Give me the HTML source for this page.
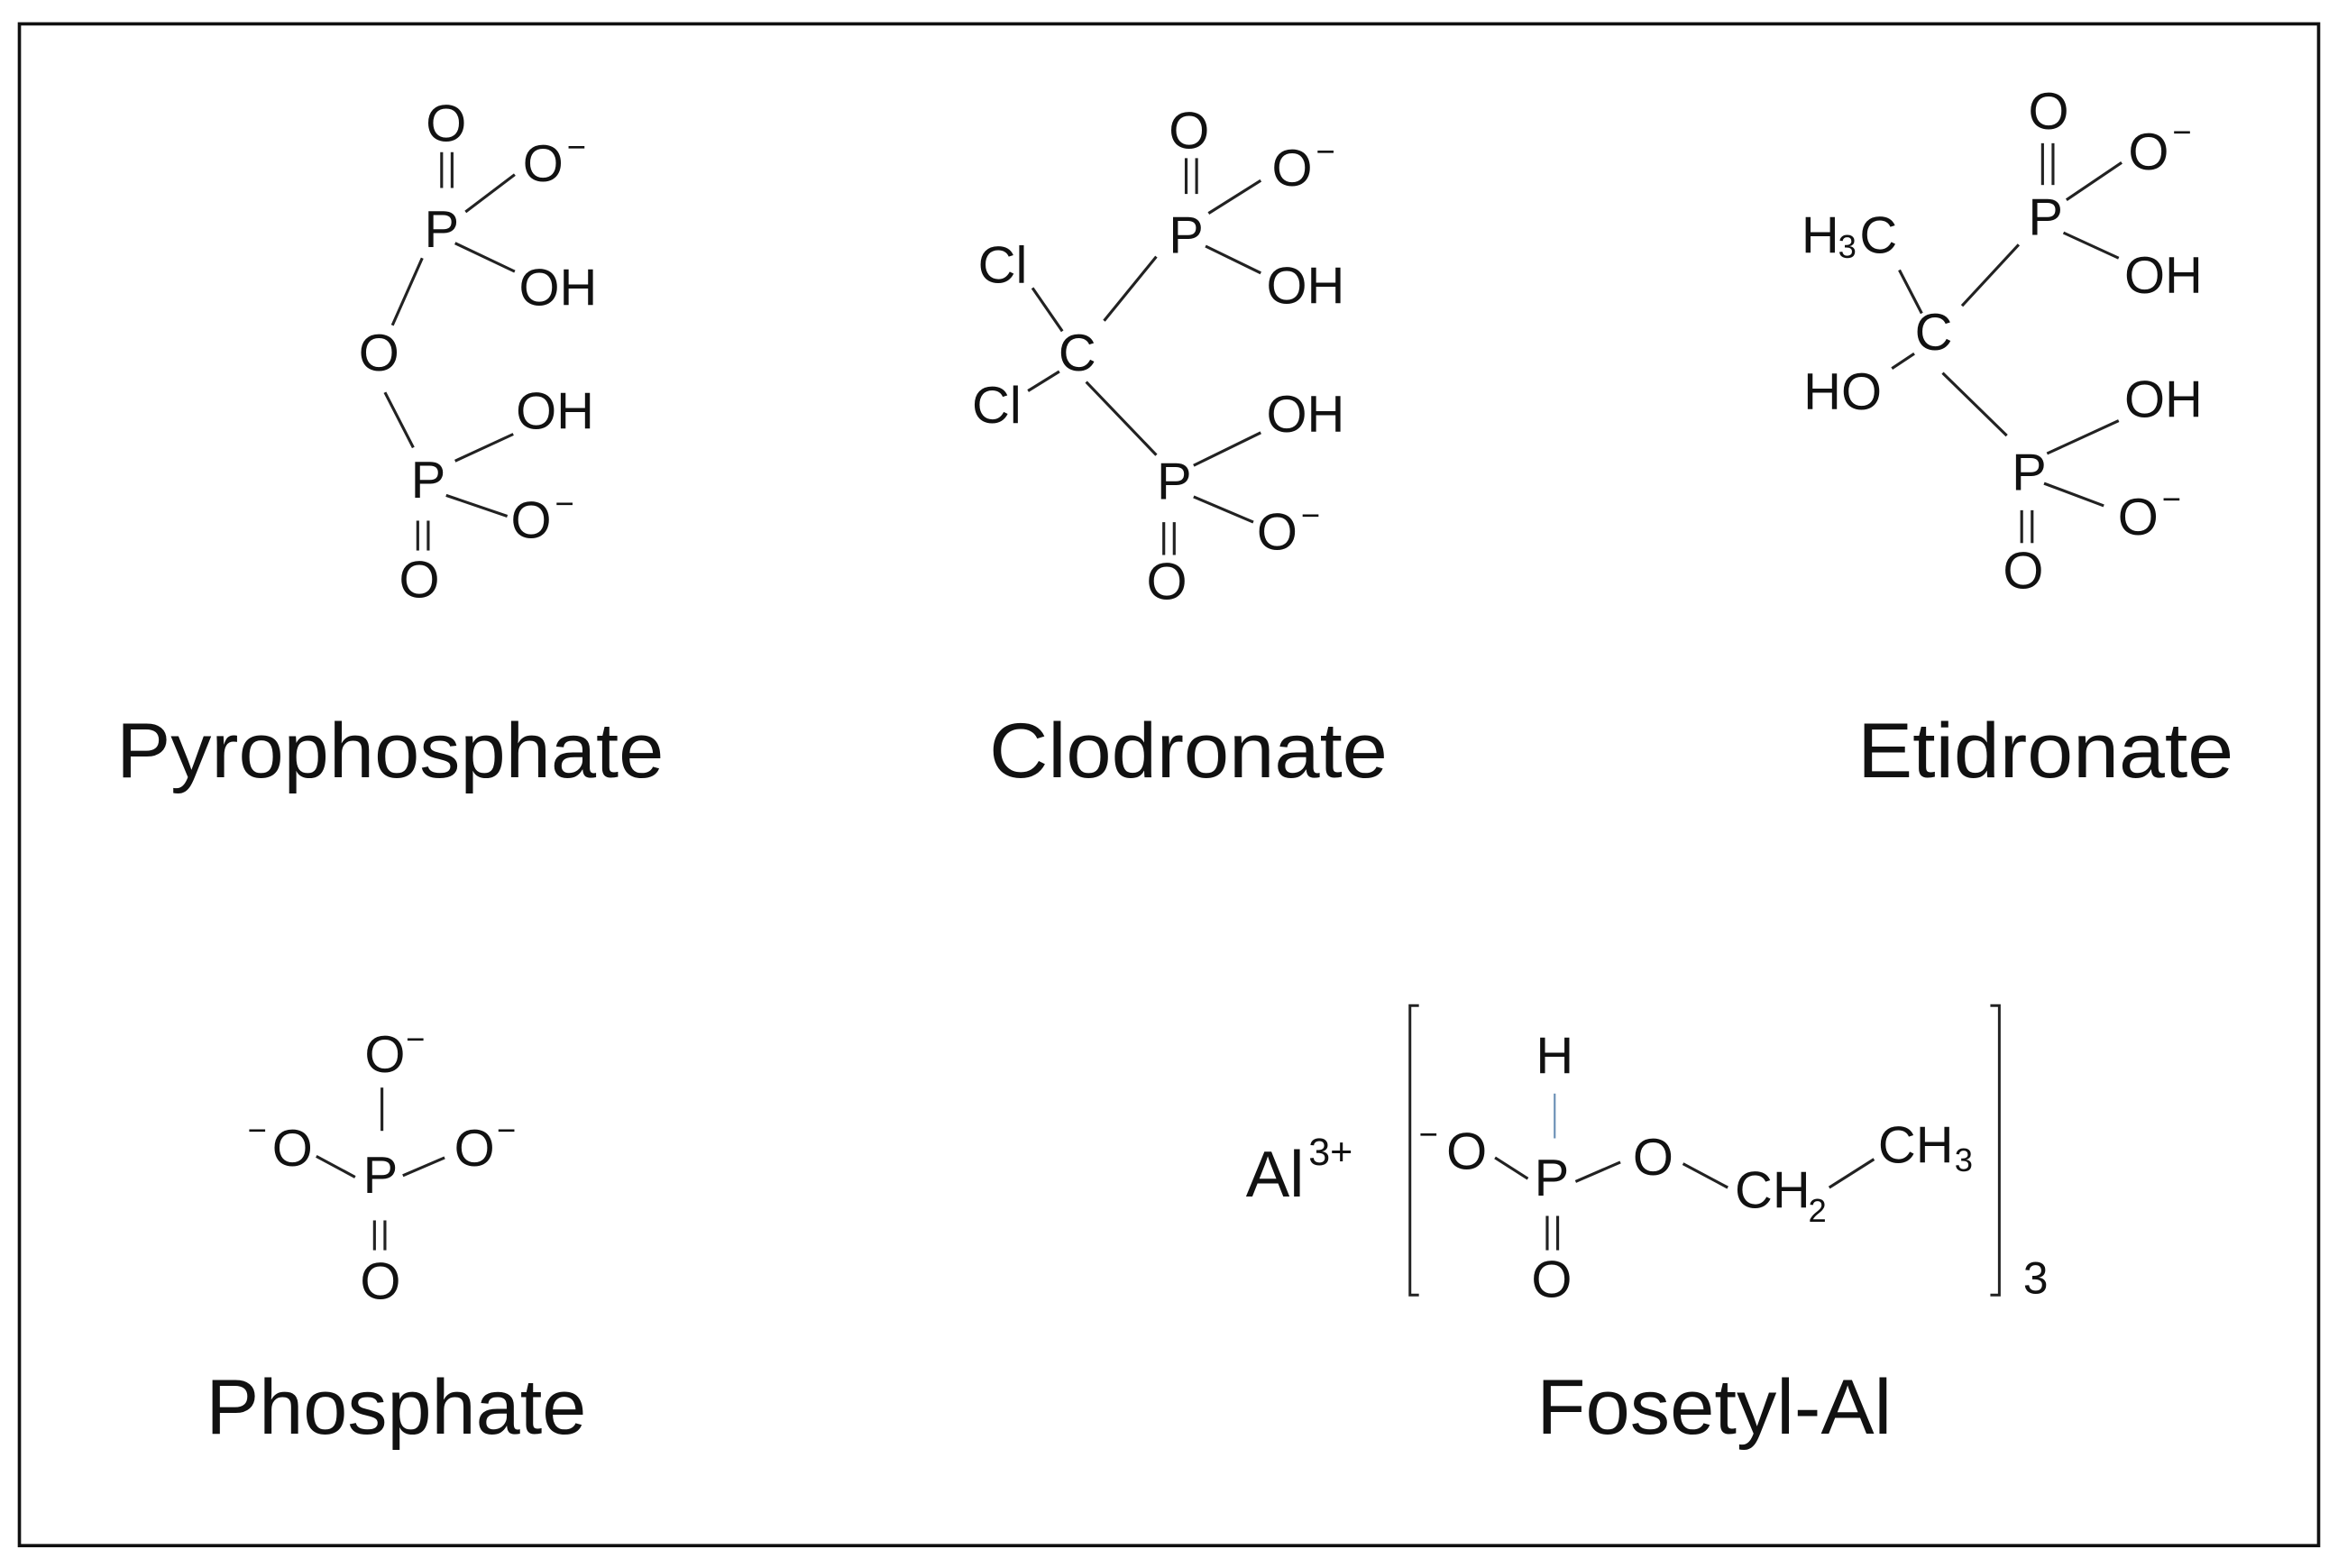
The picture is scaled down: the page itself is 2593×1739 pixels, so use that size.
<!DOCTYPE html>
<html><head><meta charset="utf-8"><style>
html,body{margin:0;padding:0;background:#fff;}
svg{display:block;}
text{font-family:"Liberation Sans",sans-serif;fill:#111;}
.a{font-size:35px;text-anchor:middle;dominant-baseline:central;}
.s{font-size:22px;}
.l{font-size:52px;}
line{stroke:#222;stroke-width:1.9;}
</style></head><body>
<svg width="2593" height="1739" viewBox="0 0 1567 1051" preserveAspectRatio="none" xmlns="http://www.w3.org/2000/svg">
<rect x="0" y="0" width="1567" height="1051" fill="#fff"/>
<rect x="13" y="16" width="1541" height="1020" fill="none" stroke="#111" stroke-width="2.2"/>

<!-- Pyrophosphate -->
<text class="a" x="299" y="83">O</text>
<text class="a" x="364" y="110">O</text><text class="s" x="380" y="106">−</text>
<text class="a" x="296" y="154">P</text>
<text class="a" x="374" y="193">OH</text>
<text class="a" x="254" y="237">O</text>
<text class="a" x="372" y="276">OH</text>
<text class="a" x="287" y="322">P</text>
<text class="a" x="356" y="349">O</text><text class="s" x="372" y="345">−</text>
<text class="a" x="281" y="389">O</text>
<line x1="296" y1="102" x2="296" y2="126"/><line x1="303" y1="102" x2="303" y2="126"/>
<line x1="312" y1="142" x2="345" y2="117"/>
<line x1="305" y1="163" x2="345" y2="182"/>
<line x1="283" y1="173" x2="263" y2="218"/>
<line x1="258" y1="263" x2="277" y2="300"/>
<line x1="305" y1="309" x2="344" y2="291"/>
<line x1="299" y1="332" x2="340" y2="346"/>
<line x1="280" y1="349" x2="280" y2="369"/><line x1="287" y1="349" x2="287" y2="369"/>
<text class="l" x="78" y="521" textLength="367" lengthAdjust="spacingAndGlyphs">Pyrophosphate</text>

<!-- Clodronate -->
<text class="a" x="797" y="88">O</text>
<text class="a" x="866" y="113">O</text><text class="s" x="882" y="109">−</text>
<text class="a" x="795" y="158">P</text>
<text class="a" x="875" y="192">OH</text>
<text class="a" x="672" y="178">Cl</text>
<text class="a" x="722" y="237">C</text>
<text class="a" x="668" y="272">Cl</text>
<text class="a" x="875" y="278">OH</text>
<text class="a" x="787" y="323">P</text>
<text class="a" x="856" y="357">O</text><text class="s" x="872" y="353">−</text>
<text class="a" x="782" y="390">O</text>
<line x1="795" y1="106" x2="795" y2="130"/><line x1="802" y1="106" x2="802" y2="130"/>
<line x1="810" y1="143" x2="845" y2="121"/>
<line x1="808" y1="165" x2="845" y2="183"/>
<line x1="692" y1="193" x2="712" y2="222"/>
<line x1="740" y1="215" x2="775" y2="172"/>
<line x1="689" y1="262" x2="710" y2="249"/>
<line x1="728" y1="256" x2="775" y2="305"/>
<line x1="800" y1="312" x2="845" y2="290"/>
<line x1="800" y1="333" x2="840" y2="350"/>
<line x1="780" y1="350" x2="780" y2="372"/><line x1="787" y1="350" x2="787" y2="372"/>
<text class="l" x="663" y="521" textLength="267" lengthAdjust="spacingAndGlyphs">Clodronate</text>

<!-- Etidronate -->
<text class="a" x="1373" y="75">O</text>
<text class="a" x="1440" y="102">O</text><text class="s" x="1456" y="96">−</text>
<text class="a" x="1371" y="146">P</text>
<text class="a" x="1220" y="158">H</text><text class="s" x="1232" y="173">3</text><text class="a" x="1259" y="158">C</text>
<text class="a" x="1450" y="185">OH</text>
<text class="a" x="1296" y="223">C</text>
<text class="a" x="1235" y="263">HO</text>
<text class="a" x="1450" y="268">OH</text>
<text class="a" x="1360" y="317">P</text>
<text class="a" x="1433" y="347">O</text><text class="s" x="1449" y="342">−</text>
<text class="a" x="1356" y="383">O</text>
<line x1="1369" y1="96" x2="1369" y2="124"/><line x1="1376" y1="96" x2="1376" y2="124"/>
<line x1="1385" y1="134" x2="1422" y2="109"/>
<line x1="1383" y1="156" x2="1420" y2="173"/>
<line x1="1273" y1="181" x2="1288" y2="210"/>
<line x1="1315" y1="205" x2="1353" y2="164"/>
<line x1="1268" y1="247" x2="1283" y2="237"/>
<line x1="1302" y1="250" x2="1345" y2="292"/>
<line x1="1372" y1="304" x2="1420" y2="282"/>
<line x1="1370" y1="324" x2="1410" y2="339"/>
<line x1="1355" y1="342" x2="1355" y2="364"/><line x1="1362" y1="342" x2="1362" y2="364"/>
<text class="l" x="1245" y="521" textLength="252" lengthAdjust="spacingAndGlyphs">Etidronate</text>

<!-- Phosphate -->
<text class="a" x="258" y="707">O</text><text class="s" x="272" y="704">−</text>
<text class="s" x="166" y="765">−</text><text class="a" x="196" y="770">O</text>
<text class="a" x="255" y="788">P</text>
<text class="a" x="318" y="770">O</text><text class="s" x="333" y="765">−</text>
<text class="a" x="255" y="859">O</text>
<line x1="256" y1="729" x2="256" y2="758"/>
<line x1="212" y1="775" x2="238" y2="789"/>
<line x1="270" y1="788" x2="298" y2="776"/>
<line x1="251" y1="818" x2="251" y2="838"/><line x1="258" y1="818" x2="258" y2="838"/>
<text class="l" x="138" y="961" textLength="255" lengthAdjust="spacingAndGlyphs">Phosphate</text>

<!-- Fosetyl-Al -->
<text x="835" y="802" style="font-size:44px">Al</text>
<text x="877" y="781" style="font-size:26px">3+</text>
<polyline points="951,674 945,674 945,868 951,868" fill="none" stroke="#222" stroke-width="1.8"/>
<polyline points="1334,674 1340,674 1340,868 1334,868" fill="none" stroke="#222" stroke-width="1.8"/>
<text x="1356" y="867" style="font-size:30px">3</text>
<text class="a" x="1042" y="708">H</text>
<line x1="1042" y1="733" x2="1042" y2="763" style="stroke:#6a8fb5;stroke-width:1.3"/>
<text class="s" x="951" y="768">−</text><text class="a" x="983" y="772">O</text>
<text class="a" x="1040" y="790">P</text>
<text class="a" x="1108" y="776">O</text>
<text class="a" x="1188" y="798">CH</text><text class="s" x="1212" y="819">2</text>
<text class="a" x="1284" y="768">CH</text><text class="s" x="1310" y="785">3</text>
<text class="a" x="1040" y="858">O</text>
<line x1="1002" y1="776" x2="1024" y2="790"/>
<line x1="1056" y1="792" x2="1086" y2="779"/>
<line x1="1128" y1="780" x2="1158" y2="796"/>
<line x1="1226" y1="796" x2="1256" y2="777"/>
<line x1="1037" y1="815" x2="1037" y2="838"/><line x1="1044" y1="815" x2="1044" y2="838"/>
<text class="l" x="1030" y="961" textLength="238" lengthAdjust="spacingAndGlyphs">Fosetyl-Al</text>
</svg>
</body></html>
